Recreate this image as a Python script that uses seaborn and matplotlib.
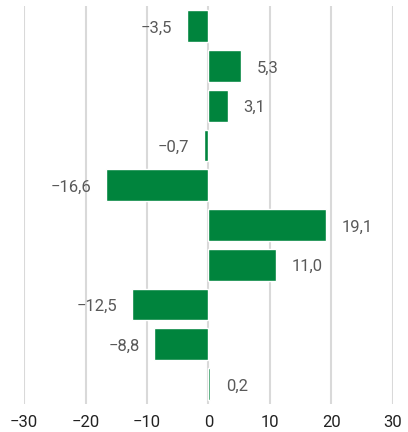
import pandas as pd
import matplotlib.pyplot as plt
import seaborn as sns

# values, top to bottom
categories = ["A", "B", "C", "D", "E", "F", "G", "H", "I", "J"]
values = [-3.5, 5.3, 3.1, -0.7, -16.6, 19.1, 11.0, -12.5, -8.8, 0.2]
ticks = [-30, -20, -10, 0, 10, 20, 30]

df = pd.DataFrame({"cat": categories, "val": values})

sns.set_style("white")
plt.rcParams["font.family"] = ["Roboto", "DejaVu Sans"]

fig = plt.figure(figsize=(4.08, 4.32), dpi=100)
ax = fig.add_axes([0.059, 0.065, 0.904, 0.92])

sns.barplot(data=df, x="val", y="cat", orient="h", color="#00843D",
            saturation=1, width=0.8, ax=ax, zorder=3)

ax.set_xlim(-30, 30)
ax.set_xticks(ticks)
ax.set_xticklabels([f"{t}".replace("-", "\u2212") for t in ticks], fontsize=12, color="#222222")
ax.set_yticks([])
ax.set_xlabel("")
ax.set_ylabel("")
ax.tick_params(axis="x", length=0, pad=8)
ax.grid(axis="x", color="#d9d9d9", linewidth=1.5, zorder=0)
for s in ax.spines.values():
    s.set_visible(False)

# value labels
for i, v in enumerate(values):
    txt = f"{v:.1f}".replace(".", ",").replace("-", "\u2212")
    if v >= 0:
        ax.text(v + 2.6, i + 0.05, txt, ha="left", va="center", fontsize=12, color="#595959")
    else:
        ax.text(v - 2.4, i + 0.05, txt, ha="right", va="center", fontsize=12, color="#595959")

fig.savefig("out.png", dpi=100)
